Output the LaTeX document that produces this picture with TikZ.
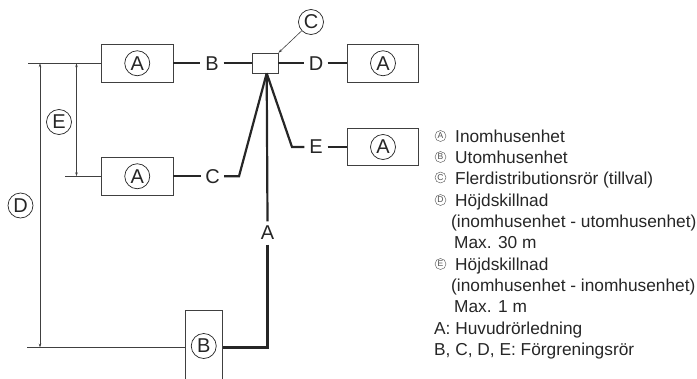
\documentclass[tikz,border=0pt]{standalone}
\usepackage{fontspec}
\setmainfont{Liberation Sans}
\usetikzlibrary{arrows.meta}

\begin{document}
\begin{tikzpicture}[
    x=1pt, y=-1pt,
    unitbox/.style={draw=black!75, line width=0.9pt, fill=white, inner sep=0pt},
    hubbox/.style={draw=black!75, line width=0.9pt, fill=white, inner sep=0pt, minimum width=26pt, minimum height=20pt},
    bigmark/.style={circle, draw=black!85, line width=0.7pt, inner sep=0pt, minimum size=25pt, font=\fontsize{20}{20}\selectfont, text=black!85},
    tinymark/.style={circle, draw=black!70, line width=0.4pt, inner sep=0pt, minimum size=11pt, font=\fontsize{8.5}{8.5}\selectfont, text=black!70},
    pipelabel/.style={inner sep=0pt, minimum width=23pt, minimum height=23pt, font=\fontsize{20}{20}\selectfont, text=black!85},
    pipe/.style={draw=black!85, line width=2.2pt, line join=miter},
    thinwire/.style={draw=black!75, line width=0.8pt},
    dimwire/.style={draw=black!75, line width=0.6pt, {Stealth[length=4pt,width=2.6pt]}-{Stealth[length=4pt,width=2.6pt]}},
    leader/.style={draw=black!75, line width=0.6pt, -{Stealth[length=4pt,width=2.6pt]}},
    legendtext/.style={anchor=base west, inner sep=0pt, font=\fontsize{17.3}{17.3}\selectfont, text=black!85}
]
  \clip (0,0) rectangle (697,378);
  % units
  \node[unitbox, minimum width=71.5pt, minimum height=37.5pt] (unitAa) at (137.25,63.25) {};
  \node[unitbox, minimum width=71.5pt, minimum height=37.5pt] (unitAb) at (137.25,176.25) {};
  \node[unitbox, minimum width=71.5pt, minimum height=37.5pt] (unitAc) at (383,63.25) {};
  \node[unitbox, minimum width=71.5pt, minimum height=37.5pt] (unitAd) at (383,147) {};
  \node[unitbox, minimum width=37.5pt, minimum height=90pt] (unitB) at (203.75,355) {};
  \node[hubbox] (hub) at (265,63.25) {};
  \node[bigmark] (markAa) at (137.25,63.25) {A};
  \node[bigmark] (markAb) at (137.25,176.25) {A};
  \node[bigmark] (markAc) at (383,63.25) {A};
  \node[bigmark] (markAd) at (383,147) {A};
  \node[bigmark] (markB) at (203.75,346) {B};
  \node[bigmark] (markC) at (311,22) {C};
  \node[bigmark] (markD) at (20.5,205.5) {D};
  \node[bigmark] (markE) at (59,122) {E};

  % pipes
  \coordinate (tee) at (266.7,73.25);
  \node[pipelabel] (pipeB) at (212,63.25) {B};
  \node[pipelabel] (pipeC) at (212.5,176.25) {C};
  \node[pipelabel] (pipeD) at (316,63.25) {D};
  \node[pipelabel] (pipeE) at (316,147) {E};
  \node[pipelabel] (pipeA) at (267.5,233) {A};
  \coordinate (bendC) at (239,176.25);
  \coordinate (bendE) at (292,147);
  \coordinate (bendA) at (267.5,347.5);
  \draw[pipe] (unitAa.east) -- (pipeB);
  \draw[pipe] (pipeB) -- (hub.west);
  \draw[pipe] (hub.east) -- (pipeD);
  \draw[pipe] (pipeD) -- (unitAc.west);
  \draw[pipe] (unitAb.east) -- (pipeC);
  \draw[pipe] (pipeC) -- (bendC) -- (tee);
  \draw[pipe] (tee) -- (bendE) -- (pipeE);
  \draw[pipe] (pipeE) -- (unitAd.west);
  \draw[pipe] (tee) -- (pipeA.north);
  \draw[pipe] (pipeA.south) -- (bendA) -- (unitB.east |- bendA);

  % levels and heights
  \coordinate (levelTop) at (28,63.25);
  \coordinate (levelMid) at (65,176.25);
  \coordinate (levelLow) at (27,347.5);
  \draw[thinwire] (levelTop) -- (unitAa.west);
  \draw[thinwire] (levelMid) -- (unitAb.west);
  \draw[thinwire] (levelLow) -- (unitB.west |- levelLow);
  \coordinate (heightDa) at (40,63.25);
  \coordinate (heightDb) at (40,347.5);
  \coordinate (heightEa) at (76.5,63.25);
  \coordinate (heightEb) at (76.5,176.25);
  \draw[dimwire] (heightDa) -- (heightDb);
  \draw[dimwire] (heightEa) -- (heightEb);
  \draw[leader] (markC) -- (hub.north east);

  % legend
  \node[tinymark] (keyA) at (440.5,136) {A};
  \node[tinymark] (keyB) at (440.5,157) {B};
  \node[tinymark] (keyC) at (440.5,177.5) {C};
  \node[tinymark] (keyD) at (440.5,200) {D};
  \node[tinymark] (keyE) at (440.5,264) {E};
  \node[legendtext] (txtA) at (455,142) {Inomhusenhet};
  \node[legendtext] (txtB) at (455,163) {Utomhusenhet};
  \node[legendtext] (txtC) at (455,184) {Flerdistributionsrör (tillval)};
  \node[legendtext] (txtDa) at (455,206) {Höjdskillnad};
  \node[legendtext] (txtDb) at (451,227.5) {(inomhusenhet - utomhusenhet)};
  \node[legendtext] (txtDc) at (454,248.5) {Max. 30 m};
  \node[legendtext] (txtEa) at (455,270) {Höjdskillnad};
  \node[legendtext] (txtEb) at (451,291.5) {(inomhusenhet - inomhusenhet)};
  \node[legendtext] (txtEc) at (454,312.7) {Max. 1 m};
  \node[legendtext] (txtF) at (434,334) {A: Huvudrörledning};
  \node[legendtext] (txtG) at (434,355) {B, C, D, E: Förgreningsrör};
\end{tikzpicture}
\end{document}
